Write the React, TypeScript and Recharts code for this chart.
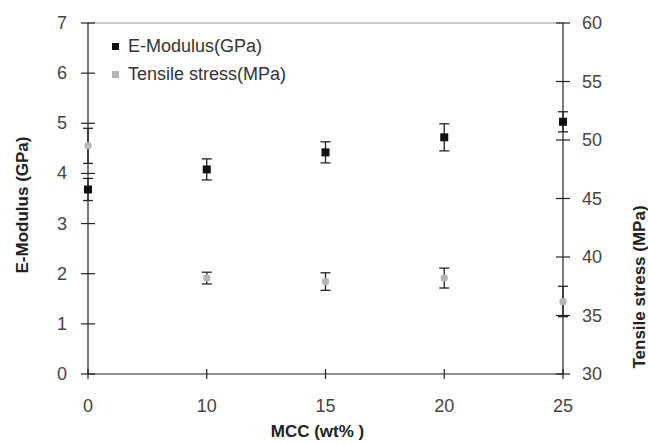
import React from 'react';
import { LineChart, Line, XAxis, YAxis, ErrorBar, ReferenceLine, Label } from 'recharts';

const mcc = ['0', '10', '15', '20', '25'];
const eModulus = [3.68, 4.08, 4.42, 4.72, 5.03];
const eModulusErr = [0.22, 0.21, 0.21, 0.27, 0.2];
const tensile = [49.5, 38.2, 37.9, 38.2, 36.2];
const tensileErr = [1.5, 0.5, 0.75, 0.85, 1.3];
const leftTicks = [0, 1, 2, 3, 4, 5, 6, 7];
const rightTicks = [30, 35, 40, 45, 50, 55, 60];

const data = mcc.map((m, i) => ({
  mcc: m,
  e: eModulus[i],
  eErr: eModulusErr[i],
  t: tensile[i],
  tErr: tensileErr[i],
}));

const FONT = '"Liberation Sans", Arial, sans-serif';
const AX = '#222';

const LeftTick = (props: any) => {
  const { x, y, payload } = props;
  const ax = x + 21;
  return (
    <g>
      <line x1={ax - 7} x2={ax + 7} y1={y} y2={y} stroke={AX} strokeWidth={1.2} />
      <text x={x} y={y} dy={6} textAnchor="end" fontSize={18} fill="#444" fontFamily={FONT}>
        {payload.value}
      </text>
    </g>
  );
};

const RightTick = (props: any) => {
  const { x, y, payload } = props;
  const ax = x - 19;
  return (
    <g>
      <line x1={ax - 7} x2={ax + 7} y1={y} y2={y} stroke={AX} strokeWidth={1.2} />
      <text x={x} y={y} dy={6} textAnchor="start" fontSize={18} fill="#444" fontFamily={FONT}>
        {payload.value}
      </text>
    </g>
  );
};

const BottomTick = (props: any) => {
  const { x, y, payload } = props;
  const ay = y - 24;
  return (
    <g>
      <line x1={x} x2={x} y1={ay - 5} y2={ay + 5} stroke={AX} strokeWidth={1.2} />
      <text x={x} y={y} dy={14} textAnchor="middle" fontSize={18} fill="#444" fontFamily={FONT}>
        {payload.value}
      </text>
    </g>
  );
};

const SquareDot = (props: any) => {
  const { cx, cy, index } = props;
  if (cx == null || cy == null) return <g key={`s${index}`} />;
  return <rect key={`s${index}`} x={cx - 4} y={cy - 4} width={8} height={8} fill="#111" />;
};

const GrayDot = (props: any) => {
  const { cx, cy, index } = props;
  if (cx == null || cy == null) return <g key={`g${index}`} />;
  return <rect key={`g${index}`} x={cx - 3.5} y={cy - 3.5} width={7} height={7} rx={2.5} fill="#b5b5b5" />;
};

export default function App() {
  return (
    <div style={{ position: 'absolute', left: 0, top: 0, width: 648, height: 443, background: '#fff' }}>
      <LineChart
        width={648}
        height={443}
        data={data}
        margin={{ top: 23, right: 0, bottom: 24, left: 0 }}
      >
        <XAxis
          dataKey="mcc"
          type="category"
          padding={{ left: 0, right: 0 }}
          stroke={AX}
          strokeWidth={1.2}
          tickLine={false}
          tickSize={0}
          tickMargin={24}
          height={45}
          tick={<BottomTick />}
          interval={0}
        >
          <Label
            content={(p: any) => {
              const vb = p.viewBox;
              return (
                <text
                  x={vb.x + vb.width / 2 - 8}
                  y={437}
                  textAnchor="middle"
                  fontSize={17}
                  fontWeight="bold"
                  fill="#222"
                  fontFamily={FONT}
                >
                  MCC (wt% )
                </text>
              );
            }}
          />
        </XAxis>
        <YAxis
          yAxisId="left"
          orientation="left"
          domain={[0, 7]}
          ticks={leftTicks}
          width={88}
          stroke={AX}
          strokeWidth={1.2}
          tickLine={false}
          tickSize={0}
          tickMargin={21}
          tick={<LeftTick />}
          interval={0}
        >
          <Label
            content={() => (
              <text
                x={0}
                y={0}
                transform="translate(28,205) rotate(-90)"
                textAnchor="middle"
                fontSize={17}
                fontWeight="bold"
                fill="#222"
                fontFamily={FONT}
              >
                E-Modulus (GPa)
              </text>
            )}
          />
        </YAxis>
        <YAxis
          yAxisId="right"
          orientation="right"
          domain={[30, 60]}
          ticks={rightTicks}
          width={85}
          stroke={AX}
          strokeWidth={1.2}
          tickLine={false}
          tickSize={0}
          tickMargin={19}
          tick={<RightTick />}
          interval={0}
        >
          <Label
            content={() => (
              <text
                x={0}
                y={0}
                transform="translate(645,287) rotate(-90)"
                textAnchor="middle"
                fontSize={17}
                fontWeight="bold"
                fill="#222"
                fontFamily={FONT}
              >
                Tensile  stress (MPa)
              </text>
            )}
          />
        </YAxis>
        <ReferenceLine yAxisId="left" y={7} stroke="#999" strokeWidth={1} />
        <Line
          yAxisId="left"
          dataKey="e"
          stroke="none"
          dot={SquareDot}
          activeDot={false}
          isAnimationActive={false}
          legendType="square"
        >
          <ErrorBar dataKey="eErr" width={5} stroke="#222" strokeWidth={1.3} direction="y" />
        </Line>
        <Line
          yAxisId="right"
          dataKey="t"
          stroke="none"
          dot={GrayDot}
          activeDot={false}
          isAnimationActive={false}
          legendType="square"
        >
          <ErrorBar dataKey="tErr" width={5} stroke="#222" strokeWidth={1.3} direction="y" />
        </Line>
      </LineChart>
      <div
        style={{
          position: 'absolute',
          left: 112,
          top: 32,
          fontFamily: FONT,
          fontSize: 18,
          color: '#333',
          lineHeight: '28px',
        }}
      >
        <div style={{ display: 'flex', alignItems: 'center' }}>
          <span style={{ display: 'inline-block', width: 7, height: 7, background: '#111', marginRight: 9 }} />
          E-Modulus(GPa)
        </div>
        <div style={{ display: 'flex', alignItems: 'center' }}>
          <span style={{ display: 'inline-block', width: 7, height: 7, background: '#b5b5b5', marginRight: 9 }} />
          Tensile stress(MPa)
        </div>
      </div>
    </div>
  );
}
